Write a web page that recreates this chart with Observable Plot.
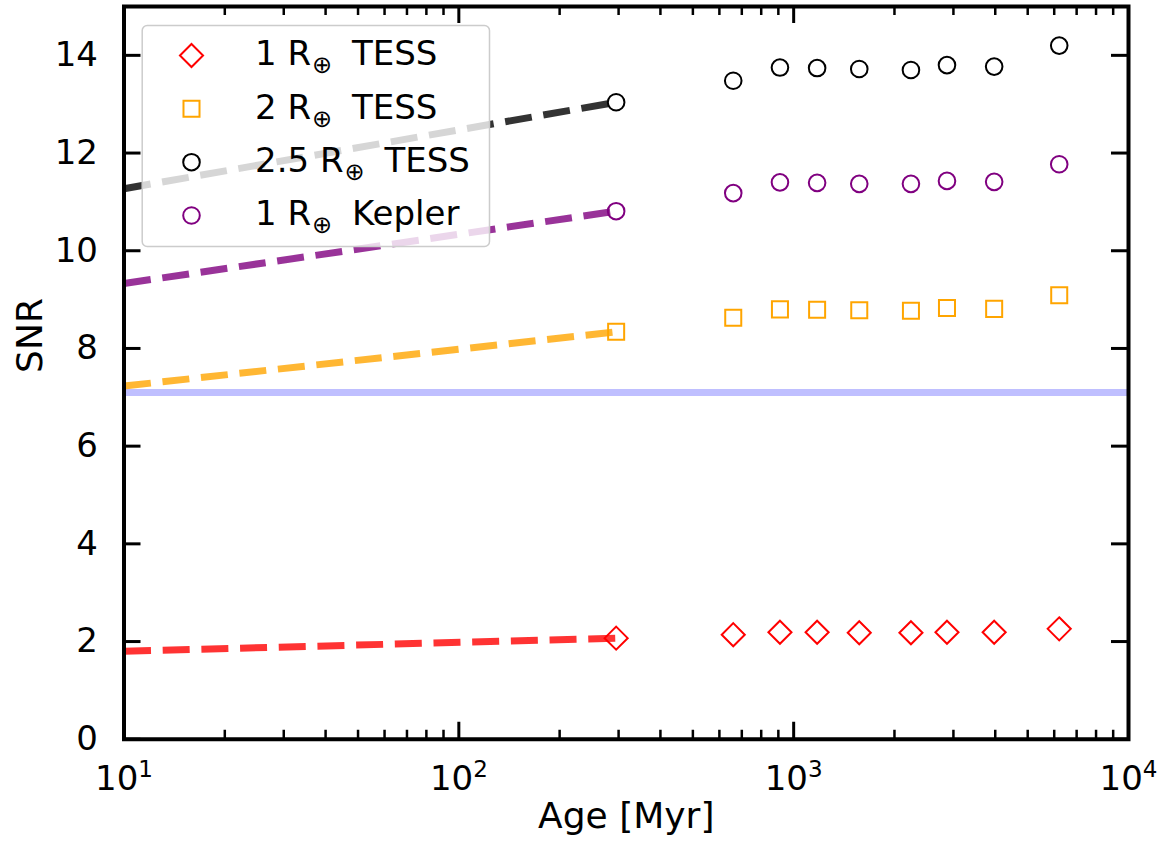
<!DOCTYPE html>
<html>
<head>
<meta charset="utf-8">
<script src="https://cdn.jsdelivr.net/npm/d3@7"></script>
<script src="https://cdn.jsdelivr.net/npm/@observablehq/plot@0.6"></script>
<style>
  html, body { margin: 0; padding: 0; background: #ffffff; }
  #chart svg { display: block; }
</style>
</head>
<body>
<div id="chart"></div>
<script>
// ---------------- DATA ----------------
const ages = [295, 660, 910, 1175, 1570, 2240, 2870, 3970, 6210];          // Myr
const snr1TESS   = [2.07, 2.14, 2.19, 2.19, 2.18, 2.18, 2.19, 2.19, 2.26];
const snr2TESS   = [8.34, 8.63, 8.80, 8.79, 8.78, 8.77, 8.83, 8.81, 9.09];
const snr25TESS  = [13.04, 13.48, 13.75, 13.74, 13.72, 13.70, 13.80, 13.77, 14.20];
const snr1Kepler = [10.81, 11.18, 11.40, 11.39, 11.37, 11.37, 11.43, 11.41, 11.77];

// dashed extrapolation to young ages: starts at 10 Myr, ends at first point
const extrapAge = 10;
const extrapStart = [1.80, 7.23, 11.27, 9.33];

const threshold = 7.1;

const seriesNames = ["1 R⊕ TESS", "2 R⊕ TESS", "2.5 R⊕ TESS", "1 R⊕ Kepler"];
const seriesValues = [snr1TESS, snr2TESS, snr25TESS, snr1Kepler];

const xMajorTicks = [10, 100, 1000, 10000];
const xMinorTicks = [20, 30, 40, 50, 60, 70, 80, 90,
                     200, 300, 400, 500, 600, 700, 800, 900,
                     2000, 3000, 4000, 5000, 6000, 7000, 8000, 9000];
const yTicks = [0, 2, 4, 6, 8, 10, 12, 14];

// ---------------- STYLE ----------------
const colors  = ["red", "orange", "black", "purple"];
const symbols = ["diamond2", "square2", "circle", "circle"];
const radii   = [10.4, 10.2, 8.3, 8.3];

const W = 1163, H = 844;
const mL = 123.5, mR = 35, mT = 6, mB = 105.25;
const plotW = W - mL - mR, plotH = H - mT - mB;
const FS_TICK = 34, FS_LEG = 34, FS_LAB = 36;
const majorLen = 17, minorLen = 9;
const legendRowDy = [49, 102.3, 155.7, 209];

// ---------------- TABLES ----------------
const pointTables = seriesValues.map(vals => ages.map((a, j) => ({age: a, snr: vals[j]})));
const lineTables = seriesValues.map((vals, i) => [
  {age: extrapAge, snr: extrapStart[i]},
  {age: ages[0], snr: vals[0]}
]);

const marks = [];
marks.push(Plot.ruleY([threshold], {stroke: "rgb(191,191,255)", strokeWidth: 7}));
lineTables.forEach((t, i) => {
  marks.push(Plot.line(t, {x: "age", y: "snr", stroke: colors[i], strokeOpacity: 0.8,
    strokeWidth: 7, strokeDasharray: "27,11.7", strokeLinecap: "butt"}));
});
// legend box
marks.push(Plot.frame({insetLeft: 18.2, insetTop: 19, insetRight: 639, insetBottom: plotH - 240,
  rx: 5, fill: "white", fillOpacity: 0.8, stroke: "#cccccc", strokeWidth: 1.5}));
pointTables.forEach((t, i) => {
  marks.push(Plot.dot(t, {x: "age", y: "snr", symbol: symbols[i], r: radii[i],
    stroke: colors[i], strokeWidth: 2, fill: "none"}));
});
// legend entries
seriesNames.forEach((name, i) => {
  marks.push(Plot.dot([name], {frameAnchor: "top-left", dx: 67.5, dy: legendRowDy[i],
    symbol: symbols[i], r: radii[i], stroke: colors[i], strokeWidth: 2, fill: "none"}));
  marks.push(Plot.text([name], {text: d => d, frameAnchor: "top-left", textAnchor: "start",
    lineAnchor: "middle", dx: 131, dy: legendRowDy[i] - 0.9, fontSize: FS_LEG, fill: "black"}));
});
// inward ticks on all four sides
marks.push(Plot.tickX(xMajorTicks, {x: d => d, insetTop: plotH - majorLen, stroke: "black", strokeWidth: 3}));
marks.push(Plot.tickX(xMajorTicks, {x: d => d, insetBottom: plotH - majorLen, stroke: "black", strokeWidth: 3}));
marks.push(Plot.tickX(xMinorTicks, {x: d => d, insetTop: plotH - minorLen, stroke: "black", strokeWidth: 2.5}));
marks.push(Plot.tickX(xMinorTicks, {x: d => d, insetBottom: plotH - minorLen, stroke: "black", strokeWidth: 2.5}));
marks.push(Plot.tickY(yTicks, {y: d => d, insetRight: plotW - majorLen, stroke: "black", strokeWidth: 3}));
marks.push(Plot.tickY(yTicks, {y: d => d, insetLeft: plotW - majorLen, stroke: "black", strokeWidth: 3}));
marks.push(Plot.frame({stroke: "black", strokeWidth: 4}));
// axes labels
marks.push(Plot.axisX({ticks: xMajorTicks, tickSize: 0, tickPadding: 26.2, label: null, fontSize: FS_TICK,
  tickFormat: d => "10^" + Math.round(Math.log10(d))}));
marks.push(Plot.axisY({ticks: yTicks, tickSize: 0, tickPadding: 26, label: null, fontSize: FS_TICK,
  tickFormat: d => String(d)}));
marks.push(Plot.text(["Age [Myr]"], {text: d => d, frameAnchor: "bottom", lineAnchor: "middle",
  dy: 76.8, fontSize: FS_LAB, fill: "black"}));
marks.push(Plot.text(["SNR"], {text: d => d, frameAnchor: "left", lineAnchor: "middle", rotate: -90,
  dx: -93.5, fontSize: FS_LAB, fill: "black"}));

const chart = Plot.plot({
  width: W, height: H,
  marginLeft: mL, marginRight: mR, marginTop: mT, marginBottom: mB,
  x: {type: "log", domain: [10, 10000]},
  y: {domain: [0, 15]},
  style: {fontFamily: "'DejaVu Sans', sans-serif", fontSize: FS_TICK + "px", background: "white", color: "black", overflow: "visible"},
  marks
});
document.getElementById("chart").appendChild(chart);

// rich text: superscript exponents and subscript ⊕
d3.select(chart).selectAll("text").each(function () {
  const t = this.textContent;
  const sel = d3.select(this);
  const m = t.match(/^10\^(\d)$/);
  if (m) {
    sel.text(null);
    sel.append("tspan").text("10");
    sel.append("tspan").attr("font-size", 23).attr("dy", -12.5).text(m[1]);
  } else if (t.includes("⊕")) {
    const k = t.indexOf("⊕");
    sel.text(null);
    sel.append("tspan").text(t.slice(0, k));
    sel.append("tspan").attr("font-size", 24).attr("dy", 8).attr("dx", 1).text("⊕");
    sel.append("tspan").attr("dy", -8).attr("dx", 9).text(t.slice(k + 1));
  }
});
</script>
</body>
</html>
